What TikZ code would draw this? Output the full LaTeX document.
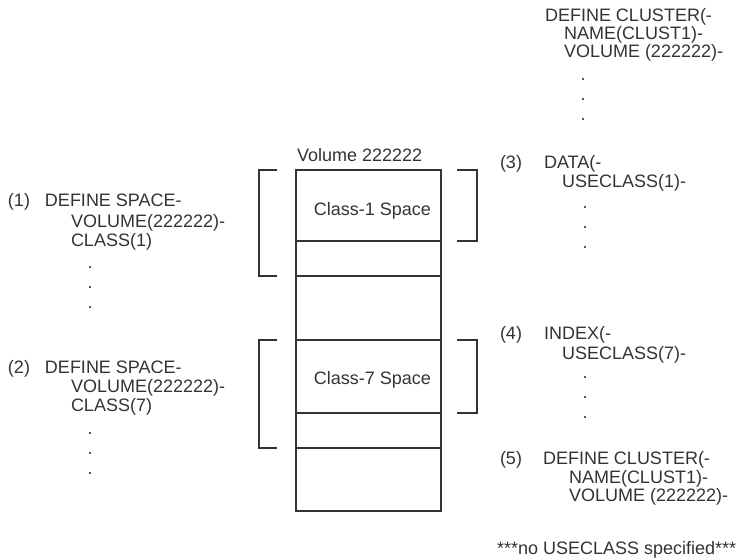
\documentclass[tikz,border=0pt]{standalone}
\usepackage{fontspec}
\setmainfont{Liberation Sans}
\usetikzlibrary{positioning}
\definecolor{inkgray}{HTML}{333333}

\begin{document}
\begin{tikzpicture}[
    x=1pt, y=-1pt,
    every node/.style={font=\fontsize{18}{20}\selectfont, text=inkgray, inner sep=0pt, outer sep=0pt},
    txt/.style={anchor=base west},
    seg/.style={draw=inkgray, line width=1.2pt, minimum width=145pt},
    brk/.style={draw=inkgray, line width=1.2pt}
]
\useasboundingbox (0,0) rectangle (742,559);

% volume column
\node (vol) [txt] at (297,161) {Volume 222222};
\node (c1) [seg, minimum height=71pt, anchor=north west] at (296,170) {};
\node (c2) [seg, minimum height=35pt, below=0pt of c1] {};
\node (c3) [seg, minimum height=64pt, below=0pt of c2] {};
\node (c4) [seg, minimum height=73pt, below=0pt of c3] {};
\node (c5) [seg, minimum height=35pt, below=0pt of c4] {};
\node (c6) [seg, minimum height=63pt, below=0pt of c5] {};
\node (t1) at ([xshift=4pt, yshift=-5pt]c1.center) {Class-1 Space};
\node (t7) at ([xshift=4pt, yshift=-3pt]c4.center) {Class-7 Space};

% brackets
\draw[brk] ([xshift=-19pt]c1.north west) -- ++(-18,0) |- ([xshift=-19pt]c2.south west);
\draw[brk] ([xshift=16pt]c1.north east) -- ++(20,0) |- ([xshift=16pt]c1.south east);
\draw[brk] ([xshift=-19pt]c4.north west) -- ++(-18,0) |- ([xshift=-19pt]c5.south west);
\draw[brk] ([xshift=16pt]c4.north east) -- ++(20,0) |- ([xshift=16pt]c4.south east);

% define space statements
\node (n1) [txt] at (8,207) {(1)};
\node (sp1a) [txt] at (45,207) {DEFINE SPACE-};
\node (sp1b) [txt] at (71,227) {VOLUME(222222)-};
\node (sp1c) [txt] at (71,246) {CLASS(1)};
\foreach \y in {268,288,308} \node (dl1-\y) at (90,\y) {.};

\node (n2) [txt] at (8,373) {(2)};
\node (sp2a) [txt] at (45,373) {DEFINE SPACE-};
\node (sp2b) [txt] at (71,392) {VOLUME(222222)-};
\node (sp2c) [txt] at (71,411) {CLASS(7)};
\foreach \y in {434,454,474} \node (dl2-\y) at (90,\y) {.};

% define cluster statements
\node (cl0a) [txt] at (545,22) {DEFINE CLUSTER(-};
\node (cl0b) [txt] at (564,40) {NAME(CLUST1)-};
\node (cl0c) [txt] at (564,58) {VOLUME (222222)-};
\foreach \y in {80,100,120} \node (dr0-\y) at (583,\y) {.};

\node (n3) [txt] at (500,169) {(3)};
\node (da) [txt] at (544,169) {DATA(-};
\node (db) [txt] at (562,188) {USECLASS(1)-};
\foreach \y in {208,228,248} \node (dr3-\y) at (585,\y) {.};

\node (n4) [txt] at (500,339) {(4)};
\node (ix) [txt] at (544,339) {INDEX(-};
\node (iy) [txt] at (562,359) {USECLASS(7)-};
\foreach \y in {378,398,418} \node (dr4-\y) at (585,\y) {.};

\node (n5) [txt] at (500,464) {(5)};
\node (cl5a) [txt] at (543,464) {DEFINE CLUSTER(-};
\node (cl5b) [txt] at (569,483) {NAME(CLUST1)-};
\node (cl5c) [txt] at (569,501) {VOLUME (222222)-};

\node (note) [txt] at (497,554) {***no USECLASS specified***};
\end{tikzpicture}
\end{document}
